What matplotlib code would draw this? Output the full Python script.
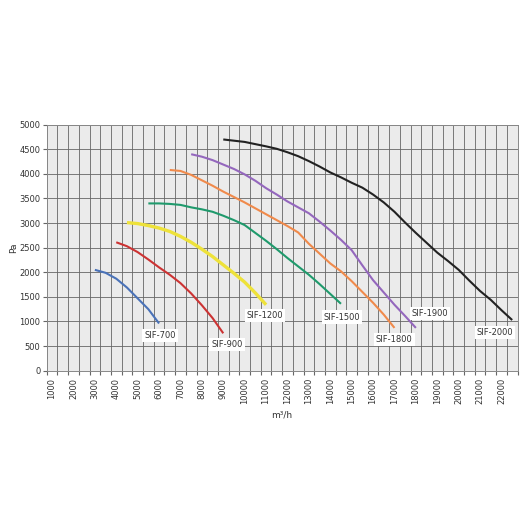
import numpy as np
import matplotlib
matplotlib.use("Agg")
import matplotlib.pyplot as plt

# fan curves: flow (m3/h) and pressure (Pa)
sif700_x = [3000, 3500, 4000, 4500, 5000, 5500, 6000]
sif700_y = [2050, 1990, 1870, 1690, 1470, 1250, 960]

sif900_x = [4000, 4500, 5000, 5500, 6000, 6500, 7000, 7500, 8000, 8500, 9000]
sif900_y = [2610, 2530, 2410, 2260, 2100, 1950, 1780, 1570, 1330, 1070, 760]

sif1200_x = [4500, 5000, 5500, 6000, 6500, 7000, 7500, 8000, 8500, 9000, 9500, 10000, 10500, 11000]
sif1200_y = [3010, 2990, 2950, 2900, 2830, 2730, 2610, 2470, 2320, 2150, 1980, 1800, 1580, 1340]

sif1500_x = [5500, 6000, 6500, 7000, 7500, 8000, 8500, 9000, 9500, 10000, 10500, 11000,
             11500, 12000, 12500, 13000, 13500, 14000, 14500]
sif1500_y = [3400, 3400, 3390, 3370, 3320, 3280, 3230, 3150, 3060, 2960, 2800, 2640,
             2470, 2290, 2120, 1950, 1760, 1560, 1360]

sif1800_x = [6500, 7000, 7500, 8000, 8500, 9000, 9500, 10000, 10500, 11000, 11500, 12000,
             12500, 13000, 13500, 14000, 14500, 15000, 15500, 16000, 16500, 17000]
sif1800_y = [4080, 4060, 3980, 3870, 3760, 3640, 3530, 3420, 3300, 3180, 3060, 2940,
             2810, 2580, 2380, 2180, 2020, 1820, 1600, 1380, 1140, 870]

sif1900_x = [7500, 8000, 8500, 9000, 9500, 10000, 10500, 11000, 11500, 12000, 12500, 13000,
             13500, 14000, 14500, 15000, 15500, 16000, 16500, 17000, 17500, 18000]
sif1900_y = [4400, 4350, 4280, 4190, 4100, 3990, 3860, 3710, 3580, 3440, 3320, 3200,
             3030, 2850, 2660, 2450, 2140, 1840, 1590, 1340, 1110, 870]

sif2000_x = [9000, 10000, 11000, 11500, 12000, 12500, 13000, 13500, 14000, 14500, 15000,
             15500, 16000, 16500, 17000, 17500, 18000, 18500, 19000, 19500, 20000, 20500,
             21000, 21500, 22000, 22500]
sif2000_y = [4700, 4650, 4560, 4510, 4440, 4360, 4260, 4150, 4030, 3930, 3820,
             3720, 3580, 3420, 3230, 3010, 2800, 2600, 2400, 2230, 2050, 1830,
             1620, 1440, 1230, 1030]

curves = [
    ("SIF-700", sif700_x, sif700_y, "#4a72b8", 1.5, (6050, 710)),
    ("SIF-900", sif900_x, sif900_y, "#cc3333", 1.5, (9180, 540)),
    ("SIF-1200", sif1200_x, sif1200_y, "#eee23a", 2.4, (10950, 1130)),
    ("SIF-1500", sif1500_x, sif1500_y, "#1f9a6c", 1.5, (14550, 1090)),
    ("SIF-1800", sif1800_x, sif1800_y, "#f08a4b", 1.5, (16980, 640)),
    ("SIF-1900", sif1900_x, sif1900_y, "#9467bd", 1.5, (18660, 1170)),
    ("SIF-2000", sif2000_x, sif2000_y, "#222222", 1.5, (21700, 770)),
]

x_labels = list(range(1000, 22001, 1000))

fig = plt.figure(figsize=(5.32, 5.32), dpi=100)
ax = fig.add_axes([0.0878, 0.3032, 0.885, 0.4624])
ax.set_facecolor("#ebebeb")

ax.set_xlim(750, 22750)
ax.set_ylim(0, 5000)

# gridlines on the category boundaries, labels in the middle of the slots
ax.set_xticks(np.arange(750, 22751, 500))
ax.set_xticks(x_labels, minor=True)
ax.set_xticklabels([])
ax.set_xticklabels([str(v) for v in x_labels], minor=True, rotation=90, fontsize=6, color="#333333")
ax.tick_params(axis="x", which="major", length=3, color="#666666")
ax.tick_params(axis="x", which="minor", length=0, pad=5)
ax.set_yticks(np.arange(0, 5001, 500))
ax.set_yticklabels([str(v) for v in range(0, 5001, 500)], fontsize=6, color="#333333")
ax.tick_params(axis="y", length=3, color="#666666", pad=1.5)

ax.grid(True, which="major", color="#666666", linewidth=0.6)
ax.set_axisbelow(True)
for sp in ax.spines.values():
    sp.set_color("#888888")
    sp.set_linewidth(0.7)

for name, xs, ys, col, lw, pos in curves:
    ax.plot(xs, ys, color=col, linewidth=lw, solid_capstyle="butt")
    ax.text(pos[0], pos[1], name, fontsize=6, color="#333333", ha="center", va="center",
            bbox=dict(facecolor="white", edgecolor="none", pad=1.5))

ax.set_ylabel("Pa", fontsize=6.5, color="#333333", labelpad=1)
ax.set_xlabel("m³/h", fontsize=6.5, color="#333333", labelpad=5)

fig.savefig("out.png", dpi=100, facecolor="white")
